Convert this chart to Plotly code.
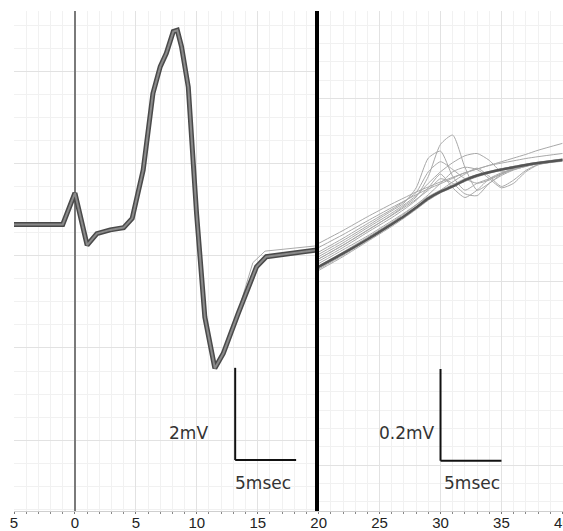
import plotly.graph_objects as go

# ---------------- data ----------------
# Left panel (low gain), time in msec, amplitude in mV
t_left = [-5, -1.0, 0, 1.0, 1.8, 2.9, 4.0, 4.7, 5.6, 6.4, 7.0, 7.5, 8.07, 8.4, 8.75, 9.3,
          9.98, 10.66, 11.48, 12.17, 13.4, 14.9, 15.7, 17.0, 19.7, 20]
v_left = [0.68, 0.68, 1.36, 0.23, 0.48, 0.56, 0.61, 0.81, 1.86, 3.52, 4.10, 4.39, 4.86, 4.89,
          4.53, 3.66, 0.92, -1.33, -2.44, -2.12, -1.25, -0.24, -0.02, 0.03, 0.12, 0.13]
t_left_var = [13.4, 14.6, 15.6, 17.0, 19.7, 20]
v_left_var = [-1.20, -0.15, 0.10, 0.14, 0.21, 0.22]

# Right panel (high gain), time in msec, amplitude in mV
t_right = [20, 22, 24, 26, 27, 28, 29, 30, 31, 32, 33, 34, 35, 36, 37, 38, 40]
right_traces = [
    [0.084, 0.112, 0.142, 0.170, 0.183, 0.196, 0.207, 0.218, 0.228, 0.238, 0.246, 0.254, 0.262, 0.270, 0.278, 0.287, 0.302],
    [0.075, 0.103, 0.133, 0.162, 0.176, 0.190, 0.203, 0.214, 0.226, 0.238, 0.246, 0.254, 0.259, 0.264, 0.269, 0.273, 0.280],
    [0.025, 0.055, 0.088, 0.121, 0.139, 0.158, 0.178, 0.194, 0.206, 0.219, 0.229, 0.237, 0.243, 0.248, 0.253, 0.257, 0.263],
    [0.040, 0.070, 0.100, 0.133, 0.150, 0.168, 0.186, 0.200, 0.212, 0.225, 0.234, 0.241, 0.247, 0.252, 0.257, 0.261, 0.268],
    [0.050, 0.080, 0.112, 0.146, 0.165, 0.185, 0.230, 0.300, 0.320, 0.250, 0.200, 0.215, 0.235, 0.248, 0.255, 0.260, 0.268],
    [0.060, 0.090, 0.122, 0.155, 0.172, 0.205, 0.270, 0.285, 0.230, 0.200, 0.215, 0.225, 0.235, 0.245, 0.252, 0.258, 0.266],
    [0.055, 0.085, 0.118, 0.150, 0.168, 0.188, 0.215, 0.240, 0.260, 0.275, 0.280, 0.265, 0.240, 0.245, 0.252, 0.258, 0.266],
    [0.045, 0.075, 0.108, 0.140, 0.158, 0.178, 0.205, 0.235, 0.205, 0.184, 0.200, 0.225, 0.238, 0.246, 0.253, 0.258, 0.266],
    [0.035, 0.065, 0.097, 0.130, 0.148, 0.168, 0.190, 0.215, 0.240, 0.250, 0.245, 0.225, 0.205, 0.215, 0.240, 0.255, 0.265],
    [0.065, 0.095, 0.127, 0.158, 0.175, 0.195, 0.240, 0.262, 0.245, 0.225, 0.215, 0.222, 0.236, 0.247, 0.254, 0.259, 0.267],
    [0.030, 0.060, 0.092, 0.125, 0.143, 0.163, 0.184, 0.200, 0.218, 0.235, 0.248, 0.230, 0.208, 0.222, 0.243, 0.256, 0.265],
    [0.050, 0.080, 0.113, 0.145, 0.162, 0.180, 0.200, 0.225, 0.215, 0.192, 0.188, 0.215, 0.232, 0.244, 0.252, 0.258, 0.266],
    [0.028, 0.058, 0.090, 0.124, 0.141, 0.160, 0.180, 0.197, 0.210, 0.222, 0.233, 0.240, 0.246, 0.251, 0.256, 0.260, 0.266],
]
v_right_main = [0.033, 0.062, 0.093, 0.126, 0.143, 0.162, 0.182, 0.197, 0.208, 0.222, 0.232, 0.239, 0.245, 0.250, 0.255, 0.259, 0.266]

left_ticks = [-5, 0, 5, 10, 15, 20]
left_ticktext = ["5", "0", "5", "10", "15", "20"]
right_ticks = [25, 30, 35, 40]
right_ticktext = ["25", "30", "35", "40"]

# scale bars: (x start, time length, y bottom, amplitude length)
scale_left = (13.15, 5, -4.43, 2.0)
scale_right = (30.0, 5, -0.39, 0.2)
# scale bar labels: (text, x, y)
labels_left = [("2mV", 9.35, -3.85), ("5msec", 15.46, -4.93)]
labels_right = [("0.2mV", 27.28, -0.33), ("5msec", 32.61, -0.439)]

# ---------------- figure ----------------
fig = go.Figure()

# left traces: band
fig.add_trace(go.Scatter(x=t_left_var, y=v_left_var, mode="lines", xaxis="x", yaxis="y",
                         line=dict(color="#aaaaaa", width=1), showlegend=False))
fig.add_trace(go.Scatter(x=t_left, y=v_left, mode="lines", xaxis="x", yaxis="y",
                         line=dict(color="#4a4a4a", width=5), showlegend=False))
fig.add_trace(go.Scatter(x=t_left, y=v_left, mode="lines", xaxis="x", yaxis="y",
                         line=dict(color="#8a8a8a", width=2), showlegend=False))

# right traces
for tr in right_traces:
    fig.add_trace(go.Scatter(x=t_right, y=tr, mode="lines", xaxis="x2", yaxis="y2",
                             line=dict(color="#a8a8a8", width=1, shape="spline", smoothing=0.6),
                             showlegend=False))
fig.add_trace(go.Scatter(x=t_right, y=v_right_main, mode="lines", xaxis="x2", yaxis="y2",
                         line=dict(color="#555555", width=2.5, shape="spline", smoothing=0.6),
                         showlegend=False))

# scale bars
for (x0, dx, y0, dy), labs, xr, yr in [(scale_left, labels_left, "x", "y"),
                                        (scale_right, labels_right, "x2", "y2")]:
    fig.add_shape(type="line", xref=xr, yref=yr, x0=x0, x1=x0, y0=y0, y1=y0 + dy,
                  line=dict(color="#111111", width=2))
    fig.add_shape(type="line", xref=xr, yref=yr, x0=x0, x1=x0 + dx, y0=y0, y1=y0,
                  line=dict(color="#111111", width=2))
    for txt, lx, ly in labs:
        fig.add_annotation(xref=xr, yref=yr, x=lx, y=ly, text=txt, showarrow=False,
                           xanchor="center", yanchor="middle",
                           font=dict(size=17, color="#333333", family="DejaVu Sans"))

split = 25 / 45.05
common_x = dict(showgrid=True, gridcolor="#e2e2e2", gridwidth=1,
                showline=True, linecolor="#cfcfcf", linewidth=1,
                ticks="outside", ticklen=2, tickcolor="#777777", automargin=False,
                ticklabelstandoff=-4, ticklabeloverflow="allow",
                tickfont=dict(size=15, color="#222222", family="Liberation Sans, Arial"),
                minor=dict(dtick=1, showgrid=True, gridcolor="#f1f1f1", ticks="outside",
                           ticklen=2, tickcolor="#888888"),
                fixedrange=True)
common_y = dict(showticklabels=False, ticks="", zeroline=False, fixedrange=True, automargin=False)

fig.update_layout(
    width=563, height=531,
    margin=dict(l=14, r=0, t=11, b=20),
    paper_bgcolor="white", plot_bgcolor="white",
    xaxis=dict(domain=[0, split], range=[-5, 20], tickvals=left_ticks, ticktext=left_ticktext,
               zeroline=True, zerolinecolor="#7a7a7a", zerolinewidth=1.5, anchor="y", **common_x),
    xaxis2=dict(domain=[split, 1], range=[20, 40.05], tickvals=right_ticks, ticktext=right_ticktext,
                zeroline=False, anchor="y2", **common_x),
    yaxis=dict(range=[-5.534, 5.306], anchor="x", showgrid=True, gridcolor="#e2e2e2",
               minor=dict(dtick=0.5, showgrid=True, gridcolor="#f1f1f1"), dtick=2,
               showline=False, **common_y),
    yaxis2=dict(range=[-0.4997, 0.5907], anchor="x2", showgrid=True, gridcolor="#e2e2e2",
                minor=dict(dtick=0.04, showgrid=True, gridcolor="#f1f1f1"), dtick=0.4,
                showline=True, linecolor="#000000", linewidth=4, **common_y),
)

fig.write_html("out.html")
